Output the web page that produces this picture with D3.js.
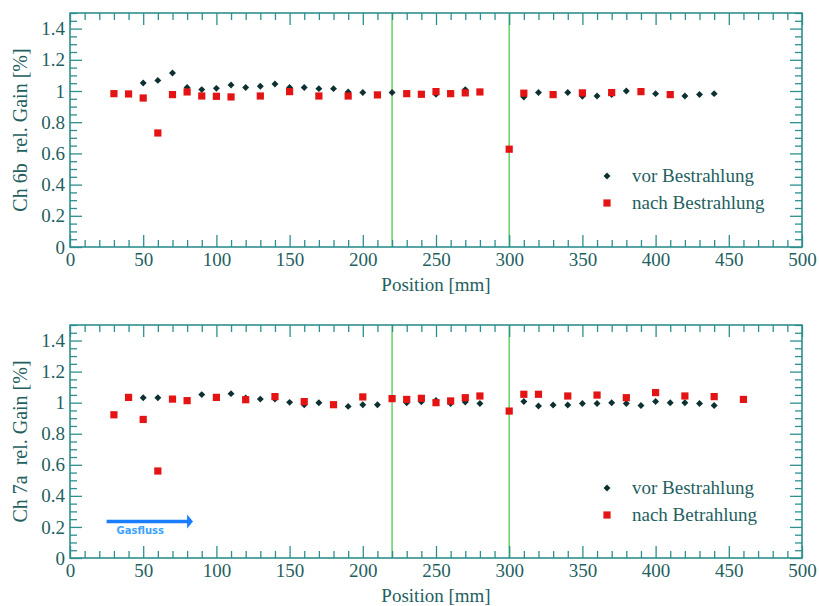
<!DOCTYPE html>
<html lang="de">
<head>
  <meta charset="UTF-8">
  <title>Ch 6b / Ch 7a rel. Gain</title>
  <script src="https://d3js.org/d3.v7.min.js"></script>
  <style>
    body { margin: 0; background: #fff; }
    svg text { font-family: 'Liberation Serif', 'DejaVu Serif', 'Times New Roman', serif; fill: #245f5f; }
  </style>
</head>
<body>
<svg width="819" height="606"></svg>
<script>
  // ---- data ----
  const xTicks = [0, 50, 100, 150, 200, 250, 300, 350, 400, 450, 500];
  const yTicks = [0, 0.2, 0.4, 0.6, 0.8, 1, 1.2, 1.4];
  const cutLines = [220, 300];

  // Ch 6b
  const top_vorX = [50, 60, 70, 80, 90, 100, 110, 120, 130, 140, 150, 160, 170, 180, 190, 200, 220,
                    250, 270, 310, 320, 340, 350, 360, 370, 380, 400, 420, 430, 440];
  const top_vorY = [1.051, 1.068, 1.115, 1.022, 1.009, 1.017, 1.038, 1.022, 1.03, 1.045, 1.022, 1.022, 1.015, 1.015, 0.994, 0.99, 0.99,
                    0.979, 1.009, 0.962, 0.99, 0.99, 0.966, 0.968, 0.977, 1.0, 0.983, 0.968, 0.977, 0.983];
  const top_nachX = [30, 40, 50, 60, 70, 80, 90, 100, 110, 130, 150, 170, 190, 210,
                     230, 240, 250, 260, 270, 280, 300, 310, 330, 350, 370, 390, 410];
  const top_nachY = [0.983, 0.981, 0.955, 0.731, 0.977, 0.994, 0.968, 0.966, 0.962, 0.968, 0.996, 0.968, 0.968, 0.975,
                     0.983, 0.979, 0.996, 0.983, 0.988, 0.994, 0.627, 0.986, 0.977, 0.988, 0.99, 0.996, 0.977];

  // Ch 7a
  const bot_vorX = [50, 60, 90, 110, 120, 130, 140, 150, 160, 170, 190, 200, 210, 230, 240, 250, 260, 270, 280,
                    310, 320, 330, 340, 350, 360, 370, 380, 390, 400, 410, 420, 430, 440];
  const bot_vorY = [1.032, 1.032, 1.052, 1.058, 1.03, 1.023, 1.023, 1.002, 0.987, 1.0, 0.976, 0.987, 0.987, 1.0, 1.006, 1.014, 0.995, 1.004, 0.995,
                    1.008, 0.978, 0.985, 0.985, 0.995, 0.995, 1.0, 0.995, 0.982, 1.008, 1.0, 1.0, 0.995, 0.982];
  const bot_nachX = [30, 40, 50, 60, 70, 80, 100, 120, 140, 160, 180, 200, 220, 230, 240, 250, 260, 270, 280,
                     300, 310, 320, 340, 360, 380, 400, 420, 440, 460];
  const bot_nachY = [0.922, 1.034, 0.892, 0.56, 1.023, 1.013, 1.034, 1.019, 1.039, 1.007, 0.987, 1.037, 1.026, 1.021, 1.028, 1.0, 1.011, 1.032, 1.043,
                     0.946, 1.054, 1.054, 1.043, 1.049, 1.032, 1.065, 1.043, 1.039, 1.021];

  const panels = [
    { top: 13, bottom: 247, ylabel: "Ch 6b  rel. Gain [%]",
      vorX: top_vorX, vorY: top_vorY, nachX: top_nachX, nachY: top_nachY,
      legend: ["vor Bestrahlung", "nach Bestrahlung"], gas: false },
    { top: 325, bottom: 558, ylabel: "Ch 7a  rel. Gain [%]",
      vorX: bot_vorX, vorY: bot_vorY, nachX: bot_nachX, nachY: bot_nachY,
      legend: ["vor Bestrahlung", "nach Betrahlung"], gas: true }
  ];

  const serif = "'Liberation Serif', 'DejaVu Serif', 'Times New Roman', serif";
  const svg = d3.select("svg");
  const left = 70, right = 802;
  const frameColor = "#2e8f8f";
  const major = 12, minor = 7;

  const x = d3.scaleLinear().domain([0, 500]).range([left, right]);
  const xMinor = d3.range(0, 501, 10).filter(v => v % 50 !== 0);
  const yMinor = d3.range(0, 1.5001, 0.05).map(v => +v.toFixed(2)).filter(v => Math.round(v * 100) % 20 !== 0);
  const fmt = d => String(+d.toFixed(1));

  const diamond = d3.symbol(d3.symbolSquare, 24);
  const square = d3.symbol(d3.symbolSquare, 52);

  function styleAxis(g) {
    g.attr("font-family", null);
    g.select(".domain").remove();
    g.selectAll("line").attr("stroke", frameColor).attr("stroke-width", 1.3);
    g.selectAll("text").attr("font-size", 19)
      .style("fill", "#245f5f").style("font-family", serif);
  }

  panels.forEach(p => {
    const y = d3.scaleLinear().domain([0, 1.5]).range([p.bottom, p.top]);
    const g = svg.append("g");

    // green markers
    g.selectAll(".cut").data(cutLines).join("line")
      .attr("x1", d => x(d)).attr("x2", d => x(d))
      .attr("y1", p.top).attr("y2", p.bottom)
      .attr("stroke", "#6fd36f").attr("stroke-width", 1.6);

    // axes, ticks inward on all sides
    g.append("g").attr("transform", `translate(0,${p.bottom})`)
      .call(d3.axisBottom(x).tickValues(xTicks).tickSize(-major).tickPadding(6).tickFormat(d3.format("d")))
      .call(styleAxis);
    g.append("g").attr("transform", `translate(0,${p.bottom})`)
      .call(d3.axisBottom(x).tickValues(xMinor).tickSize(-minor).tickFormat(""))
      .call(styleAxis);
    g.append("g").attr("transform", `translate(0,${p.top})`)
      .call(d3.axisTop(x).tickValues(xTicks).tickSize(-major).tickFormat(""))
      .call(styleAxis);
    g.append("g").attr("transform", `translate(0,${p.top})`)
      .call(d3.axisTop(x).tickValues(xMinor).tickSize(-minor).tickFormat(""))
      .call(styleAxis);
    g.append("g").attr("transform", `translate(${left},0)`)
      .call(d3.axisLeft(y).tickValues(yTicks).tickSize(-major).tickPadding(5).tickFormat(fmt))
      .call(styleAxis);
    g.append("g").attr("transform", `translate(${left},0)`)
      .call(d3.axisLeft(y).tickValues(yMinor).tickSize(-minor).tickFormat(""))
      .call(styleAxis);
    g.append("g").attr("transform", `translate(${right},0)`)
      .call(d3.axisRight(y).tickValues(yTicks).tickSize(-major).tickFormat(""))
      .call(styleAxis);
    g.append("g").attr("transform", `translate(${right},0)`)
      .call(d3.axisRight(y).tickValues(yMinor).tickSize(-minor).tickFormat(""))
      .call(styleAxis);

    // frame
    g.append("rect")
      .attr("x", left).attr("y", p.top)
      .attr("width", right - left).attr("height", p.bottom - p.top)
      .attr("fill", "none").attr("stroke", frameColor).attr("stroke-width", 1.6);

    // data
    g.selectAll(".vor").data(p.vorX.map((v, i) => [v, p.vorY[i]])).join("path")
      .attr("d", diamond)
      .attr("transform", d => `translate(${x(d[0])},${y(d[1])}) rotate(45)`)
      .attr("fill", "#0d3030");
    g.selectAll(".nach").data(p.nachX.map((v, i) => [v, p.nachY[i]])).join("path")
      .attr("d", square)
      .attr("transform", d => `translate(${x(d[0])},${y(d[1])})`)
      .attr("fill", "#e41414");

    // labels
    g.append("text")
      .attr("transform", `translate(22,${(p.top + p.bottom) / 2}) rotate(-90)`)
      .attr("text-anchor", "middle").attr("dominant-baseline", "middle")
      .attr("font-size", 20).style("white-space", "pre").style("font-family", serif)
      .text(p.ylabel);
    g.append("text")
      .attr("x", x(250)).attr("y", p.bottom + 44)
      .attr("text-anchor", "middle").attr("font-size", 19).style("font-family", serif)
      .text("Position [mm]");

    // legend
    const lg = g.append("g").attr("transform", `translate(607,${p.top + 163})`);
    lg.append("path").attr("d", diamond).attr("transform", "rotate(45)").attr("fill", "#0d3030");
    lg.append("path").attr("d", square).attr("transform", "translate(0,27)").attr("fill", "#e41414");
    lg.selectAll("text").data(p.legend).join("text")
      .attr("x", 25).attr("y", (d, i) => i * 27 + 6)
      .attr("font-size", 19).style("font-family", serif)
      .text(d => d);

    if (p.gas) {
      const ay = y(0.235);
      g.append("line")
        .attr("x1", x(25)).attr("x2", x(81))
        .attr("y1", ay).attr("y2", ay)
        .attr("stroke", "#1a7cff").attr("stroke-width", 3.5);
      g.append("path")
        .attr("d", `M${x(80)},${ay - 7}L${x(84)},${ay}L${x(80)},${ay + 7}Z`)
        .attr("fill", "#1a7cff");
      g.append("text")
        .attr("x", x(48)).attr("y", ay + 13)
        .attr("text-anchor", "middle").attr("font-size", 10)
        .style("fill", "#3aa2ff").style("font-family", "'DejaVu Sans', sans-serif").style("font-weight", "bold")
        .text("Gasfluss");
    }
  });
</script>
</body>
</html>
